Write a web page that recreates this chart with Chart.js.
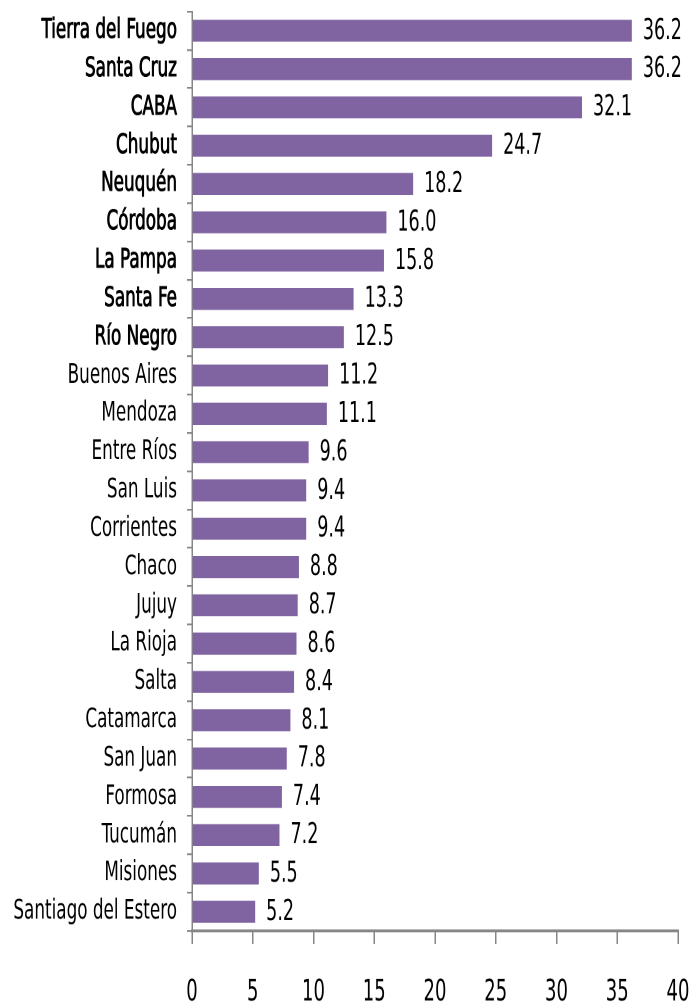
<!DOCTYPE html>
<html>
<head>
<meta charset="utf-8">
<script src="https://cdn.jsdelivr.net/npm/chart.js@4.4.1/dist/chart.umd.min.js"></script>
<style>
  html, body { margin: 0; padding: 0; background: #fff; width: 690px; height: 1006px; overflow: hidden; }
  /* the source picture is an Excel chart stretched vertically */
  #wrap { width: 690px; height: 694px; transform: scaleY(1.45); transform-origin: 0 0; }
</style>
</head>
<body>
<div id="wrap"><canvas id="chart" width="690" height="694"></canvas></div>
<script>
const provinces = [
  "Tierra del Fuego", "Santa Cruz", "CABA", "Chubut", "Neuquén", "Córdoba",
  "La Pampa", "Santa Fe", "Río Negro", "Buenos Aires", "Mendoza", "Entre Ríos",
  "San Luis", "Corrientes", "Chaco", "Jujuy", "La Rioja", "Salta", "Catamarca",
  "San Juan", "Formosa", "Tucumán", "Misiones", "Santiago del Estero"
];
const values = [
  36.2, 36.2, 32.1, 24.7, 18.2, 16.0,
  15.8, 13.3, 12.5, 11.2, 11.1, 9.6,
  9.4, 9.4, 8.8, 8.7, 8.6, 8.4, 8.1,
  7.8, 7.4, 7.2, 5.5, 5.2
];
const boldCount = 9; // first provinces are drawn heavier in the original
const xMin = 0, xMax = 40, xStep = 5;

const FONT = "'Liberation Sans Narrow', 'DejaVu Sans Condensed', 'Liberation Sans', sans-serif";
const AXIS = "#868686";

// value labels at the end of each bar
const valueLabels = {
  id: "valueLabels",
  afterDatasetsDraw(chart) {
    const ctx = chart.ctx;
    const meta = chart.getDatasetMeta(0);
    ctx.save();
    ctx.font = "19.5px " + FONT;
    ctx.fillStyle = "#000";
    ctx.textAlign = "left";
    ctx.textBaseline = "middle";
    meta.data.forEach((bar, i) => {
      ctx.fillText(values[i].toFixed(1), bar.x + 11, bar.y + 0.5);
    });
    ctx.restore();
  }
};

const ctx = document.getElementById("chart").getContext("2d");
new Chart(ctx, {
  type: "bar",
  data: {
    labels: provinces,
    datasets: [{
      data: values,
      backgroundColor: "#8064A2",
      borderWidth: 0,
      categoryPercentage: 1,
      barPercentage: 0.575
    }]
  },
  options: {
    indexAxis: "y",
    responsive: false,
    animation: false,
    devicePixelRatio: 2,
    layout: { padding: { top: 8, right: 12, left: 0, bottom: 0 } },
    plugins: {
      legend: { display: false },
      tooltip: { enabled: false }
    },
    scales: {
      x: {
        min: xMin,
        max: xMax,
        ticks: {
          stepSize: xStep,
          color: "#000",
          padding: 22,
          maxRotation: 0,
          font: { family: FONT, size: 20 }
        },
        grid: {
          drawOnChartArea: false,
          drawTicks: true,
          tickLength: 9,
          color: AXIS,
          lineWidth: 1.5
        },
        border: { color: AXIS, width: 2 },
        afterFit(s) {
          s.height = 52;
          s.paddingLeft = 0;
          s.paddingRight = 0;
        }
      },
      y: {
        ticks: {
          color: "#000",
          padding: 10,
          autoSkip: false,
          font: { family: FONT, size: 18.7, lineHeight: 0.9 },
          textStrokeColor: "#000",
          textStrokeWidth: (c) => (c.index < boldCount ? 0.6 : 0)
        },
        grid: {
          offset: true,
          drawOnChartArea: false,
          tickLength: 5,
          color: AXIS,
          lineWidth: 1.2
        },
        border: { color: AXIS, width: 1.5 },
        afterFit(s) {
          s.width = 192;
          s.paddingTop = 0;
          s.paddingBottom = 0;
        }
      }
    }
  },
  plugins: [valueLabels]
});
</script>
</body>
</html>
